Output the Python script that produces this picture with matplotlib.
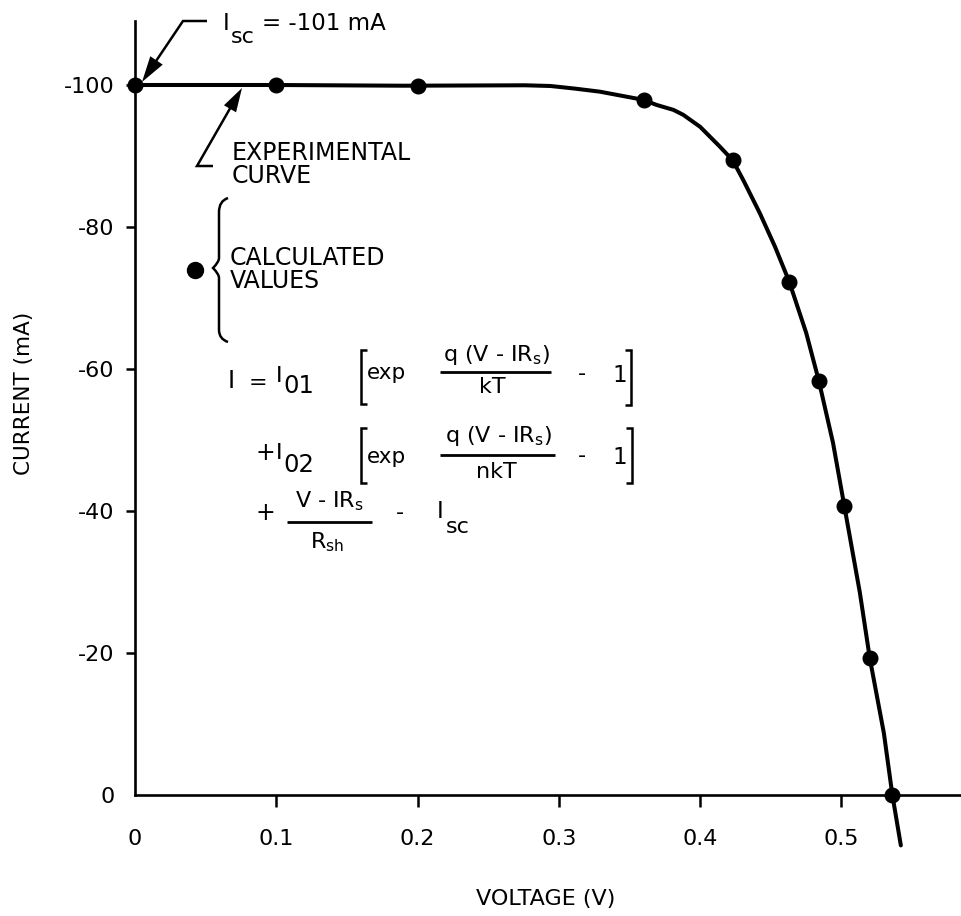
import matplotlib
matplotlib.use("Agg")
from matplotlib import pyplot as plt
from matplotlib.transforms import Affine2D
from matplotlib.lines import Line2D
from matplotlib.patches import Polygon, PathPatch
from matplotlib.path import Path
import numpy as np

plt.rcParams["font.family"] = ["DejaVu Sans"]
plt.rcParams["axes.unicode_minus"] = False
plt.rcParams["mathtext.fontset"] = "dejavusans"

# experimental I-V curve
voltage_exp = [0.0, 0.10, 0.19, 0.276, 0.294, 0.311, 0.329, 0.36, 0.369, 0.381,
               0.388, 0.40, 0.414, 0.423, 0.4305, 0.4423, 0.453, 0.463, 0.475,
               0.484, 0.494, 0.502, 0.513, 0.520, 0.530, 0.536, 0.542]
current_exp = [-100.0, -100.0, -99.9, -99.96, -99.86, -99.5, -99.06, -97.9, -97.2, -96.5,
               -95.8, -94.1, -91.3, -89.4, -86.6, -81.9, -77.2, -72.3, -65.1,
               -58.3, -49.6, -40.7, -28.5, -19.3, -8.7, 0.0, 7.1]

# calculated values (dots)
voltage_calc = [0.0, 0.10, 0.20, 0.36, 0.423, 0.463, 0.484, 0.502, 0.520, 0.536]
current_calc = [-100.0, -100.0, -99.8, -97.9, -89.4, -72.3, -58.3, -40.7, -19.3, 0.0]

x_ticks = [0, 0.1, 0.2, 0.3, 0.4, 0.5]
x_ticklabels = ["0", "0.1", "0.2", "0.3", "0.4", "0.5"]
y_ticks = [0, -20, -40, -60, -80, -100]
y_ticklabels = ["0", "-20", "-40", "-60", "-80", "-100"]

W, H = 961, 916
fig = plt.figure(figsize=(W / 100, H / 100), dpi=100)
# helper transform: reference pixel coords (origin top-left)
T = Affine2D().scale(1 / W, -1 / H).translate(0, 1) + fig.transFigure

x0, y0, ytop = 135, 795, 20.7
ax = fig.add_axes([x0 / W, 1 - y0 / H, (W - x0) / W, (y0 - ytop) / H])
ax.set_xlim(0, (W - x0) / 1413)
ax.set_ylim(0, -(y0 - ytop) / 7.1)

ax.plot(voltage_exp, current_exp, color="black", lw=2.9, clip_on=False,
        solid_joinstyle="round", solid_capstyle="round", zorder=3)
ax.plot(voltage_calc, current_calc, "o", color="black", ms=10.5, clip_on=False, zorder=4)

for s in ["top", "right"]:
    ax.spines[s].set_visible(False)
for s in ["left", "bottom"]:
    ax.spines[s].set_linewidth(1.9)

ax.set_xticks(x_ticks, x_ticklabels)
ax.set_yticks(y_ticks, y_ticklabels)
ax.tick_params(axis="x", direction="out", length=8.5, width=1.8, pad=16, labelsize=16)
ax.tick_params(axis="y", direction="out", length=6.5, width=1.8, pad=8, labelsize=16)
ax.xaxis.get_major_ticks()[0].tick1line.set_visible(False)
ax.yaxis.get_major_ticks()[0].tick1line.set_visible(False)

ax.set_xlabel("VOLTAGE (V)", fontsize=16, va="center")
ax.xaxis.set_label_coords(546, 899, transform=T)
ax.set_ylabel("CURRENT (mA)", fontsize=15.5, va="center")
ax.yaxis.set_label_coords(24, 393, transform=T)


def put(x, y, s, size=15, ha="left"):
    fig.text(x, y, s, transform=T, fontsize=size, va="center", ha=ha)


def seg(xs, ys, lw=1.8):
    fig.add_artist(Line2D(xs, ys, transform=T, color="black", lw=lw,
                          solid_capstyle="butt", solid_joinstyle="miter"))


def head(tip, frm, length, width):
    d = np.array(tip, float) - np.array(frm, float)
    d /= np.hypot(*d)
    n = np.array([-d[1], d[0]])
    base = np.array(tip) - d * length
    pts = [tip, base + n * width / 2, base - n * width / 2]
    fig.add_artist(Polygon(pts, closed=True, transform=T, color="black", lw=0))


def bracket(x, ytop, ybot, side):
    dx = 6 if side == "left" else -6
    seg([x + dx, x, x, x + dx], [ytop, ytop, ybot, ybot])


# I_sc annotation
seg([207, 183, 150], [21, 21, 70])
head((142, 82), (183, 21), 26, 15)
put(223, 24, "I", 16.5)
put(231, 37, "sc", 16)
put(262, 23, "= -101 mA", 16.5)

# experimental curve annotation
seg([213, 197, 236], [166, 166, 98])
head((242, 88), (197, 166), 24, 14)
put(232, 153, "EXPERIMENTAL", 17)
put(232, 176, "CURVE", 17)

# calculated values legend
fig.add_artist(Line2D([195], [270], marker="o", ms=11.5, color="black", transform=T))
brace = Path([(228, 198), (219, 201), (219, 212), (219, 258), (219, 262), (213, 268),
              (219, 274), (219, 278), (219, 330), (219, 339), (228, 342)],
             [Path.MOVETO, Path.CURVE3, Path.CURVE3, Path.LINETO, Path.CURVE3, Path.CURVE3,
              Path.CURVE3, Path.CURVE3, Path.LINETO, Path.CURVE3, Path.CURVE3])
fig.add_artist(PathPatch(brace, transform=T, fill=False, lw=1.8, color="black"))
put(230, 258, "CALCULATED", 17)
put(230, 281, "VALUES", 17)

num = r"q (V - IR$_\mathregular{s}$)"

# equation line 1
put(228, 381, "I", 17)
put(249, 383, "=", 16)
put(276, 376, "I", 16)
put(283, 386, "01", 17.5)
bracket(361, 350, 404, "left")
put(367, 373, "exp", 15.5)
put(496, 355, num, 16, ha="center")
seg([440, 551], [372, 372], lw=2)
put(492, 387, "kT", 16, ha="center")
put(582, 374, "-", 16, ha="center")
put(620, 376, "1", 16.5, ha="center")
bracket(631, 350, 405, "right")

# equation line 2
put(256, 453, "+", 17)
put(276, 453, "I", 16)
put(283, 465, "02", 17.5)
bracket(361, 428, 483, "left")
put(367, 457, "exp", 15.5)
put(498, 436, num, 16, ha="center")
seg([440, 555], [455, 455], lw=2)
put(496, 472, "nkT", 16, ha="center")
put(582, 456, "-", 16, ha="center")
put(620, 458, "1", 16.5, ha="center")
bracket(632, 428, 483, "right")

# equation line 3
put(265, 513, "+", 17, ha="center")
put(329, 501, r"V - IR$_\mathregular{s}$", 16, ha="center")
seg([287, 372], [522, 522], lw=2)
put(327, 542, r"R$_\mathregular{sh}$", 16, ha="center")
put(400, 513, "-", 16, ha="center")
put(437, 511, "I", 16.5)
put(446, 527, "sc", 16)

plt.savefig("out.png", dpi=100)
